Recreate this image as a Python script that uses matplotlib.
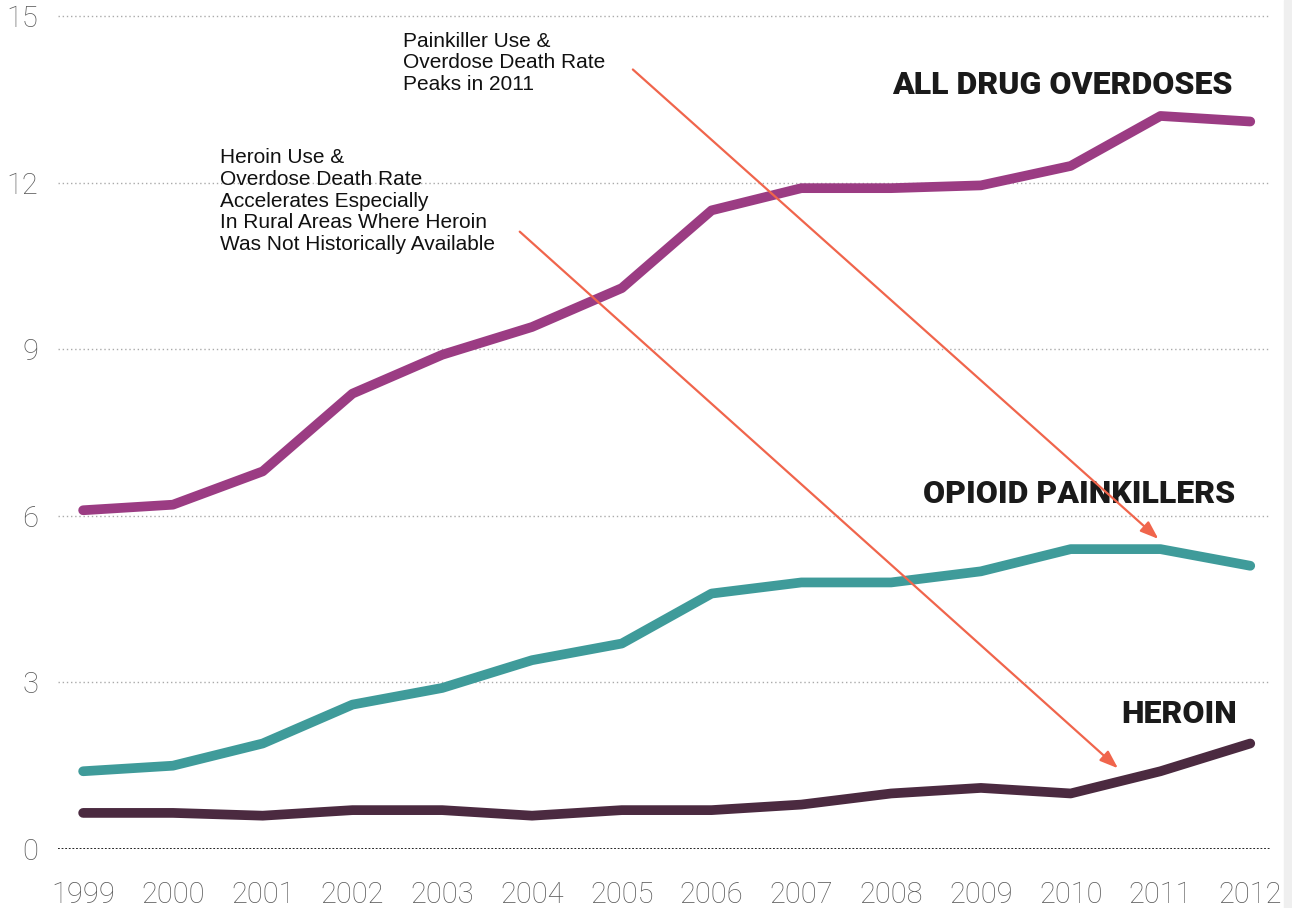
import matplotlib.pyplot as plt
from matplotlib.patches import Rectangle

years = list(range(1999, 2013))
all_drugs = [6.1, 6.2, 6.8, 8.2, 8.9, 9.4, 10.1, 11.5, 11.9, 11.9, 11.95, 12.3, 13.2, 13.1]
opioids = [1.4, 1.5, 1.9, 2.6, 2.9, 3.4, 3.7, 4.6, 4.8, 4.8, 5.0, 5.4, 5.4, 5.1]
heroin = [0.65, 0.65, 0.6, 0.7, 0.7, 0.6, 0.7, 0.7, 0.8, 1.0, 1.1, 1.0, 1.4, 1.9]
yticks = [0, 3, 6, 9, 12, 15]

fig = plt.figure(figsize=(12.92, 9.08), dpi=100)
fig.add_artist(Rectangle((0.994, 0), 0.006, 1, transform=fig.transFigure,
                         color='#efefef', zorder=0))
ax = fig.add_axes([58 / 1292, 59 / 908, 1212 / 1292, 833 / 908])
ax.set_xlim(1998.72, 2012.22)
ax.set_ylim(0, 15)

for y in yticks[1:]:
    ax.axhline(y, color='#aaaaaa', lw=1, ls=(0, (1, 2)), zorder=1, clip_on=False)
ax.axhline(0, color='#111111', lw=1.3, ls=(0, (1, 1)), zorder=1)

# three series
ax.plot(years, all_drugs, color='#9b3c83', lw=7, solid_capstyle='round', solid_joinstyle='round', zorder=3)
ax.plot(years, opioids, color='#3f9b9a', lw=7, solid_capstyle='round', solid_joinstyle='round', zorder=3)
ax.plot(years, heroin, color='#4b2a40', lw=7, solid_capstyle='round', solid_joinstyle='round', zorder=3)

lab = dict(fontsize=23, fontweight='heavy', color='#1a1a1a', family='Roboto', ha='right', va='center')
ax.text(2011.8, 13.75, 'ALL DRUG OVERDOSES', **lab)
ax.text(2011.83, 6.4, 'OPIOID PAINKILLERS', **lab)
ax.text(2011.85, 2.43, 'HEROIN', **lab)

note = dict(fontsize=15, color='#111111', family='Liberation Sans', ha='left', va='top', linespacing=1.18)
ax.text(2002.56, 14.72, 'Painkiller Use &\nOverdose Death Rate\nPeaks in 2011', **note)
ax.text(2000.52, 12.62, 'Heroin Use &\nOverdose Death Rate\nAccelerates Especially\nIn Rural Areas Where Heroin\nWas Not Historically Available', **note)

arrow = dict(arrowstyle='-|>,head_length=1.1,head_width=0.4', color='#f0654c', lw=1.6)
ax.annotate('', xy=(2011.0, 5.55), xytext=(2005.1, 14.07), arrowprops=arrow)
ax.annotate('', xy=(2010.55, 1.42), xytext=(2003.84, 11.15), arrowprops=arrow)

ax.set_xticks(years)
ax.set_yticks(yticks)
ax.tick_params(length=0, labelsize=21, labelcolor='#5a5a5a')
ax.tick_params(axis='x', pad=23)
ax.tick_params(axis='y', pad=14)
for t in ax.get_xticklabels() + ax.get_yticklabels():
    t.set_family('Roboto')
    t.set_fontweight('light')
for s in ax.spines.values():
    s.set_visible(False)

fig.savefig('out.png', dpi=100)
